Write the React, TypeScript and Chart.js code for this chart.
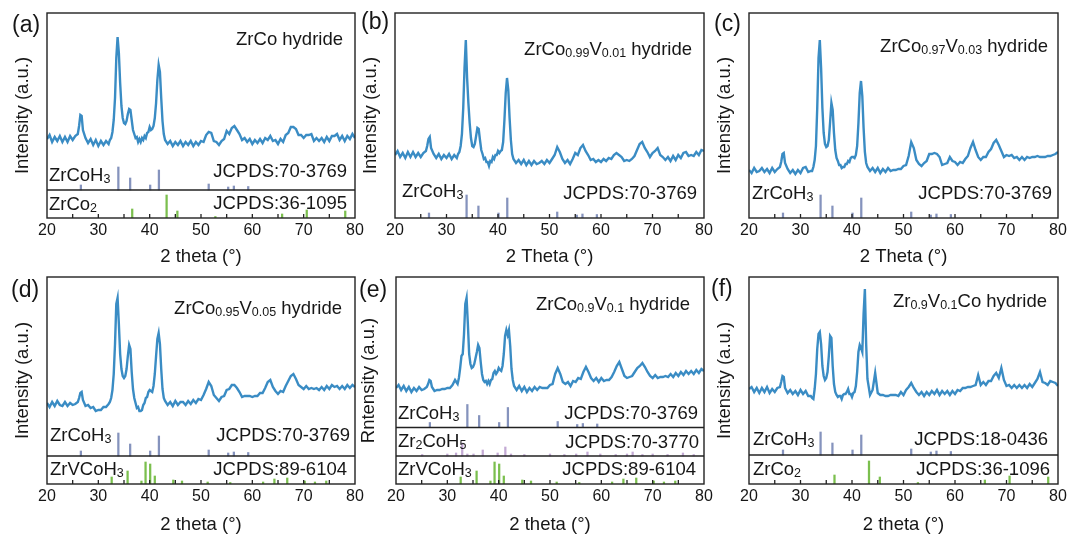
import React, { useEffect, useRef } from 'react';
import { Chart, registerables } from 'chart.js';

Chart.register(...registerables);

// ---------- DATA ----------
// 2θ sampling grid (degrees)
const twoTheta = [
  20, 20.5, 21, 21.5, 22, 22.5, 23, 23.5, 24, 24.5,
  25, 25.5, 26, 26.25, 26.5, 26.75, 27, 27.5, 28, 28.5,
  29, 29.5, 30, 30.5, 31, 31.5, 32, 32.25, 32.5, 32.75,
  33, 33.25, 33.5, 33.75, 34, 34.25, 34.5, 34.75, 35, 35.25,
  35.5, 35.75, 36, 36.25, 36.5, 36.75, 37, 37.25, 37.5, 37.75,
  38, 38.25, 38.5, 38.75, 39, 39.25, 39.5, 39.75, 40, 40.25,
  40.5, 40.75, 41, 41.25, 41.5, 41.75, 42, 42.25, 42.5, 42.75,
  43, 43.5, 44, 44.5, 45, 45.5, 46, 46.5, 47, 47.5,
  48, 48.5, 49, 49.5, 50, 50.5, 51, 51.5, 52, 52.5,
  53, 53.5, 54, 54.5, 55, 55.5, 56, 56.5, 57, 57.5,
  58, 58.5, 59, 59.5, 60, 60.5, 61, 61.5, 62, 62.5,
  63, 63.5, 64, 64.5, 65, 65.5, 66, 66.5, 67, 67.5,
  68, 68.5, 69, 69.5, 70, 70.5, 71, 71.5, 72, 72.5,
  73, 73.5, 74, 74.5, 75, 75.5, 76, 76.5, 77, 77.5,
  78, 78.5, 79, 79.5, 80,
];

// (a) ZrCo hydride
const intensityA = [
  79, 83, 76, 81, 77, 82, 76, 81, 76, 82,
  78, 82, 84, 92, 103, 102, 88, 80, 75, 79,
  73, 78, 72, 77, 73, 77, 74, 78, 80, 86,
  98, 120, 160, 181, 165, 135, 112, 100, 95, 94,
  97, 104, 109, 108, 98, 88, 84, 80, 81, 76,
  79, 76, 80, 78, 82, 80, 85, 86, 91, 88,
  89, 92, 100, 115, 138, 153, 146, 120, 97, 84,
  78, 74, 77, 72, 76, 73, 77, 72, 76, 73,
  77, 72, 76, 73, 77, 76, 83, 86, 85, 77,
  76, 73, 77, 79, 87, 84, 90, 92, 88, 84,
  78, 80, 76, 79, 74, 78, 75, 79, 75, 80,
  78, 82, 77, 78, 74, 79, 76, 83, 85, 91,
  91, 89, 83, 83, 80, 83, 83, 84, 77, 80,
  77, 80, 76, 81, 77, 82, 82, 84, 78, 82,
  77, 82, 79, 84, 80,
];

// (b) ZrCo0.99V0.01 hydride
const intensityB = [
  63, 67, 61, 65, 60, 66, 61, 66, 61, 65,
  61, 65, 67, 72, 79, 81, 70, 64, 60, 64,
  59, 63, 60, 64, 59, 63, 60, 64, 66, 72,
  84, 110, 150, 178, 140, 115, 95, 80, 72, 71,
  74, 82, 90, 89, 78, 68, 64, 59, 60, 56,
  56, 52, 57, 56, 61, 59, 63, 63, 67, 65,
  67, 68, 76, 98, 125, 140, 128, 100, 78, 64,
  59, 55, 58, 54, 58, 53, 57, 53, 57, 54,
  55, 57, 54, 58, 55, 59, 63, 71, 66, 59,
  55, 58, 54, 59, 65, 63, 70, 73, 67, 63,
  58, 59, 56, 58, 56, 59, 57, 60, 59, 63,
  65, 63, 61, 57, 58, 57, 59, 62, 68, 74,
  76, 70, 66, 61, 65, 67, 70, 63, 61, 58,
  61, 57, 62, 58, 63, 60, 65, 66, 62, 63,
  62, 66, 63, 68, 67,
];

// (c) ZrCo0.97V0.03 hydride
const intensityC = [
  48, 45, 50, 46, 47, 50, 46, 49, 45, 50,
  46, 49, 51, 56, 64, 65, 55, 49, 45, 48,
  44, 48, 45, 50, 51, 46, 47, 47, 51, 58,
  72, 110, 160, 178, 150, 110, 85, 74, 71, 72,
  78, 96, 115, 108, 85, 68, 60, 57, 53, 53,
  50, 51, 51, 54, 54, 57, 56, 60, 61, 61,
  60, 63, 72, 95, 125, 137, 122, 90, 66, 55,
  51, 47, 50, 46, 50, 45, 49, 46, 50, 47,
  48, 48, 49, 49, 52, 53, 62, 76, 70, 58,
  54, 52, 55, 57, 64, 64, 65, 64, 61, 53,
  54, 55, 61, 57, 56, 53, 56, 55, 59, 62,
  70, 76, 68, 61, 58, 61, 61, 66, 69, 75,
  78, 73, 67, 61, 63, 62, 63, 60, 61, 58,
  61, 58, 61, 60, 61, 61, 62, 61, 61, 61,
  62, 62, 63, 64, 66,
];

// (d) ZrCo0.95V0.05 hydride
const intensityD = [
  81, 77, 82, 78, 83, 79, 78, 82, 78, 81,
  79, 80, 82, 86, 91, 92, 84, 78, 79, 76,
  77, 73, 74, 74, 77, 77, 80, 82, 86, 94,
  110, 140, 180, 186, 160, 130, 115, 108, 106, 108,
  115, 128, 139, 135, 112, 95, 86, 81, 76, 77,
  73, 73, 74, 79, 81, 86, 87, 92, 94, 93,
  92, 98, 110, 128, 145, 151, 140, 115, 95, 86,
  83, 79, 82, 78, 83, 79, 82, 82, 79, 83,
  80, 84, 81, 85, 84, 89, 95, 102, 98, 89,
  86, 83, 87, 88, 94, 95, 99, 99, 96, 92,
  87, 88, 88, 88, 87, 88, 88, 91, 91, 96,
  102, 104, 97, 93, 90, 93, 92, 98, 103, 108,
  110, 105, 99, 97, 95, 98, 95, 96, 95, 96,
  94, 97, 94, 98, 95, 99, 97, 98, 95, 98,
  95, 99, 96, 99, 97,
];

// (e) ZrCo0.9V0.1 hydride
const intensityE = [
  96, 99, 94, 98, 93, 97, 92, 96, 93, 97,
  94, 95, 97, 100, 104, 103, 97, 93, 94, 94,
  95, 95, 96, 96, 99, 104, 100, 106, 116, 128,
  130, 150, 180, 186, 160, 130, 120, 116, 117, 120,
  126, 132, 139, 136, 122, 110, 104, 102, 103, 100,
  103, 100, 104, 105, 111, 113, 110, 112, 116, 114,
  113, 118, 130, 148, 154, 149, 154, 138, 115, 104,
  98, 94, 98, 93, 97, 92, 96, 93, 97, 94,
  97, 96, 96, 96, 99, 100, 110, 116, 110, 102,
  100, 102, 98, 103, 102, 106, 105, 112, 117, 112,
  106, 103, 106, 102, 106, 103, 104, 104, 107, 112,
  118, 122, 115, 108, 106, 107, 108, 112, 116, 118,
  121, 117, 112, 108, 106, 109, 106, 107, 107, 108,
  107, 110, 107, 111, 108, 112, 109, 113, 110, 113,
  110, 114, 111, 115, 113,
];

// (f) Zr0.9V0.1Co hydride
const intensityF = [
  95, 97, 92, 96, 91, 96, 92, 97, 91, 95,
  92, 96, 97, 102, 108, 107, 96, 91, 94, 90,
  93, 89, 94, 90, 93, 88, 88, 86, 85, 95,
  110, 135, 150, 152, 140, 118, 108, 104, 106, 112,
  128, 148, 146, 118, 100, 92, 89, 87, 88, 88,
  85, 89, 90, 90, 92, 95, 90, 90, 87, 91,
  92, 98, 112, 132, 139, 136, 132, 170, 195, 140,
  105, 89, 94, 111, 91, 89, 89, 88, 88, 89,
  89, 89, 88, 92, 89, 94, 97, 101, 96, 92,
  89, 92, 88, 92, 89, 93, 90, 94, 89, 93,
  90, 93, 89, 93, 90, 94, 93, 96, 96, 97,
  97, 98, 99, 109, 99, 102, 99, 103, 103, 108,
  111, 106, 116, 104, 98, 99, 96, 99, 96, 99,
  96, 99, 96, 100, 97, 101, 105, 112, 102, 101,
  99, 103, 102, 101, 98,
];

// Reference stick patterns (position °, relative height)
const zrCoH3Pos = [26.6, 33.9, 36.2, 40.1, 41.8, 51.5, 55.3, 56.4, 59.2];
const zrCoH3Int = [5, 23, 12, 5, 20, 6, 3, 4, 3.5];

const zrCo2Pos = [36.6, 43.3, 45.4, 52.8, 65.8, 70.6, 78.1];
const zrCo2Int = [9, 23, 7, 1.5, 4, 8, 7];

const zrVCoH3Pos = [32.6, 35.7, 38.4, 39.2, 40.1, 41.0, 44.6, 46.3, 51.3, 55.7, 62.1, 64.3, 66.8, 70.2, 72.2, 74.4];
const zrVCoH3Int = [7, 13, 3, 22, 20, 8, 4, 3, 2, 1.5, 2, 5, 6, 3, 2, 3];

const zr2CoH5Pos = [25.1, 30.0, 31.7, 32.9, 33.9, 35.1, 36.9, 39.8, 41.3, 42.4, 45.0, 50.0, 52.8, 55.1, 57.3, 59.8, 62.8, 65.0, 66.1, 68.0, 70.0, 72.9, 75.9, 78.0];
const zr2CoH5Int = [1.5, 2, 3, 13, 2, 2, 6, 3, 9, 2, 1.5, 2, 1.5, 2, 4, 2, 1.5, 2, 4, 1.5, 2, 1.5, 3, 1.5];

const xTickLabels = [20, 30, 40, 50, 60, 70, 80];
const xTickMarks = [25, 30, 35, 40, 45, 50, 55, 60, 65, 70, 75];

// ---------- STYLE ----------
const FONT = '"Liberation Sans", Arial, Helvetica, sans-serif';
const CURVE = '#3a8cc4';
const C_H3 = '#8593bd';
const C_GREEN = '#7bbf4e';
const C_PURPLE = '#c3aad4';
const INK = '#161616';

type Run = [string, boolean];
interface TextItem { runs: Run[]; side: 'left' | 'right'; off: number; base: number }
interface StickSet { pos: number[]; int: number[]; base: number; color: string }
interface PanelCfg {
  left: number; top: number; w: number; h: number;
  pl: number; pt: number; pr: number; axisH: number; titlePadB: number;
  ymax: number; curve: number[];
  xTitle: string; yTitle: string; yTitleOff: number;
  letter: string; letterX: number; letterY: number;
  title: Run[]; titleR: number; titleB: number;
  sticks: StickSet[]; dividers: number[]; texts: TextItem[];
}

const H3: Run[] = [['ZrCoH', false], ['3', true]];
const CO2: Run[] = [['ZrCo', false], ['2', true]];
const VCOH3: Run[] = [['ZrVCoH', false], ['3', true]];
const ZR2: Run[] = [['Zr', false], ['2', true], ['CoH', false], ['5', true]];
const J = (s: string): Run[] => [[s, false]];

const panels: PanelCfg[] = [
  {
    left: 0, top: 0, w: 370, h: 268, pl: 47, pt: 13, pr: 15, axisH: 50, titlePadB: 0,
    ymax: 205, curve: intensityA, xTitle: '2 theta (°)', yTitle: 'Intensity (a.u.)', yTitleOff: 24.5,
    letter: '(a)', letterX: 12, letterY: 32,
    title: [['ZrCo hydride', false]], titleR: 12, titleB: 32,
    sticks: [
      { pos: zrCoH3Pos, int: zrCoH3Int, base: 28, color: C_H3 },
      { pos: zrCo2Pos, int: zrCo2Int, base: 0, color: C_GREEN },
    ],
    dividers: [28],
    texts: [
      { runs: H3, side: 'left', off: 2, base: 37 },
      { runs: J('JCPDS:70-3769'), side: 'right', off: 8, base: 41 },
      { runs: CO2, side: 'left', off: 2, base: 8 },
      { runs: J('JCPDS:36-1095'), side: 'right', off: 8, base: 9 },
    ],
  },
  {
    left: 355, top: 0, w: 362, h: 268, pl: 40, pt: 13, pr: 13, axisH: 50, titlePadB: 0,
    ymax: 205, curve: intensityB, xTitle: '2 Theta (°)', yTitle: 'Intensity (a.u.)', yTitleOff: 24.5,
    letter: '(b)', letterX: 6, letterY: 29,
    title: [['ZrCo', false], ['0.99', true], ['V', false], ['0.01', true], [' hydride', false]], titleR: 12, titleB: 42,
    sticks: [{ pos: zrCoH3Pos, int: zrCoH3Int, base: 0, color: C_H3 }],
    dividers: [],
    texts: [
      { runs: H3, side: 'left', off: 7, base: 21 },
      { runs: J('JCPDS:70-3769'), side: 'right', off: 7, base: 19.5 },
    ],
  },
  {
    left: 710, top: 0, w: 361, h: 268, pl: 39, pt: 13, pr: 13, axisH: 50, titlePadB: 0,
    ymax: 205, curve: intensityC, xTitle: '2 Theta (°)', yTitle: 'Intensity (a.u.)', yTitleOff: 24,
    letter: '(c)', letterX: 4, letterY: 31,
    title: [['ZrCo', false], ['0.97', true], ['V', false], ['0.03', true], [' hydride', false]], titleR: 10, titleB: 39,
    sticks: [{ pos: zrCoH3Pos, int: zrCoH3Int, base: 0, color: C_H3 }],
    dividers: [],
    texts: [
      { runs: H3, side: 'left', off: 3, base: 19.5 },
      { runs: J('JCPDS:70-3769'), side: 'right', off: 6, base: 19.5 },
    ],
  },
  {
    left: 0, top: 268, w: 370, h: 269, pl: 47, pt: 9, pr: 15, axisH: 53, titlePadB: 1,
    ymax: 207, curve: intensityD, xTitle: '2 theta (°)', yTitle: 'Intensity (a.u.)', yTitleOff: 24.5,
    letter: '(d)', letterX: 11, letterY: 29,
    title: [['ZrCo', false], ['0.95', true], ['V', false], ['0.05', true], [' hydride', false]], titleR: 13, titleB: 37,
    sticks: [
      { pos: zrCoH3Pos, int: zrCoH3Int, base: 28, color: C_H3 },
      { pos: zrVCoH3Pos, int: zrVCoH3Int, base: 0, color: C_GREEN },
    ],
    dividers: [28],
    texts: [
      { runs: H3, side: 'left', off: 3, base: 43 },
      { runs: J('JCPDS:70-3769'), side: 'right', off: 5, base: 43 },
      { runs: VCOH3, side: 'left', off: 3, base: 9 },
      { runs: J('JCPDS:89-6104'), side: 'right', off: 8, base: 9 },
    ],
  },
  {
    left: 355, top: 268, w: 362, h: 269, pl: 41, pt: 9, pr: 13, axisH: 53, titlePadB: 1,
    ymax: 207, curve: intensityE, xTitle: '2 theta (°)', yTitle: 'Rntensity (a.u.)', yTitleOff: 27,
    letter: '(e)', letterX: 4, letterY: 29,
    title: [['ZrCo', false], ['0.9', true], ['V', false], ['0.1', true], [' hydride', false]], titleR: 14, titleB: 33,
    sticks: [
      { pos: zrCoH3Pos, int: zrCoH3Int, base: 56.5, color: C_H3 },
      { pos: zr2CoH5Pos, int: zr2CoH5Int, base: 28, color: C_PURPLE },
      { pos: zrVCoH3Pos, int: zrVCoH3Int, base: 0, color: C_GREEN },
    ],
    dividers: [56.5, 28],
    texts: [
      { runs: H3, side: 'left', off: 2, base: 65.5 },
      { runs: J('JCPDS:70-3769'), side: 'right', off: 6, base: 65.5 },
      { runs: ZR2, side: 'left', off: 2, base: 37 },
      { runs: J('JCPDS:70-3770'), side: 'right', off: 5, base: 36.5 },
      { runs: VCOH3, side: 'left', off: 2, base: 9 },
      { runs: J('JCPDS:89-6104'), side: 'right', off: 8, base: 9 },
    ],
  },
  {
    left: 710, top: 268, w: 361, h: 269, pl: 39, pt: 9, pr: 13, axisH: 53, titlePadB: 1,
    ymax: 207, curve: intensityF, xTitle: '2 theta (°)', yTitle: 'Intensity (a.u.)', yTitleOff: 24,
    letter: '(f)', letterX: 1, letterY: 28,
    title: [['Zr', false], ['0.9', true], ['V', false], ['0.1', true], ['Co hydride', false]], titleR: 11, titleB: 30,
    sticks: [
      { pos: zrCoH3Pos, int: zrCoH3Int, base: 29, color: C_H3 },
      { pos: zrCo2Pos, int: zrCo2Int, base: 0, color: C_GREEN },
    ],
    dividers: [29],
    texts: [
      { runs: H3, side: 'left', off: 4, base: 39 },
      { runs: J('JCPDS:18-0436'), side: 'right', off: 10, base: 39 },
      { runs: CO2, side: 'left', off: 4, base: 9 },
      { runs: J('JCPDS:36-1096'), side: 'right', off: 8, base: 9 },
    ],
  },
];

function drawRuns(
  ctx: CanvasRenderingContext2D, runs: Run[], x: number, y: number,
  align: 'left' | 'right', size: number, subSize: number, subDrop: number,
) {
  const widths = runs.map(([t, sub]) => {
    ctx.font = `${sub ? subSize : size}px ${FONT}`;
    return ctx.measureText(t).width;
  });
  const total = widths.reduce((a, b) => a + b, 0);
  let cx = align === 'right' ? x - total : x;
  ctx.textAlign = 'left';
  ctx.textBaseline = 'alphabetic';
  runs.forEach(([t, sub], i) => {
    ctx.font = `${sub ? subSize : size}px ${FONT}`;
    ctx.fillText(t, cx, y + (sub ? subDrop : 0));
    cx += widths[i];
  });
}

function Panel({ cfg }: { cfg: PanelCfg }) {
  const ref = useRef<HTMLCanvasElement>(null);
  useEffect(() => {
    const canvas = ref.current;
    if (!canvas) return;
    const stickSets: any[] = cfg.sticks.map((s) => ({
      type: 'bar',
      data: s.pos.map((p, i) => ({ x: p, y: [s.base, s.base + s.int[i]] })),
      backgroundColor: s.color,
      borderWidth: 0,
      barThickness: 1.6,
      grouped: false,
      order: 2,
    }));
    const framePlugin = {
      id: 'frame' + cfg.letter,
      afterDraw(chart: any) {
        const { ctx, chartArea: a, scales } = chart;
        const xs = scales.x;
        const ys = scales.y;
        ctx.save();
        ctx.strokeStyle = '#222';
        ctx.lineWidth = 1.4;
        ctx.strokeRect(a.left, a.top, a.right - a.left, a.bottom - a.top);
        cfg.dividers.forEach((d) => {
          const py = ys.getPixelForValue(d);
          ctx.beginPath();
          ctx.moveTo(a.left, py);
          ctx.lineTo(a.right, py);
          ctx.stroke();
        });
        ctx.lineWidth = 1.3;
        xTickMarks.forEach((v) => {
          const px = xs.getPixelForValue(v);
          ctx.beginPath();
          ctx.moveTo(px, a.bottom);
          ctx.lineTo(px, a.bottom - 4);
          ctx.stroke();
        });
        ctx.fillStyle = INK;
        drawRuns(ctx, cfg.title, a.right - cfg.titleR, a.top + cfg.titleB, 'right', 18.5, 12.5, 1.5);
        cfg.texts.forEach((t) => {
          const x = t.side === 'left' ? a.left + t.off : a.right - t.off;
          drawRuns(ctx, t.runs, x, a.bottom - t.base, t.side, 18.5, 12.5, 2);
        });
        ctx.font = `23px ${FONT}`;
        ctx.textAlign = 'left';
        ctx.textBaseline = 'alphabetic';
        ctx.fillText(cfg.letter, cfg.letterX, cfg.letterY);
        ctx.translate(a.left - cfg.yTitleOff, (a.top + a.bottom) / 2);
        ctx.rotate(-Math.PI / 2);
        ctx.font = `18.5px ${FONT}`;
        ctx.textAlign = 'center';
        ctx.textBaseline = 'middle';
        ctx.fillText(cfg.yTitle, 0, 0);
        ctx.restore();
      },
    };
    const chart = new Chart(canvas, {
      type: 'line',
      data: {
        datasets: [
          {
            type: 'line',
            data: twoTheta.map((x, i) => ({ x, y: cfg.curve[i] })),
            borderColor: CURVE,
            borderWidth: 2.4,
            pointRadius: 0,
            tension: 0,
            fill: false,
            order: 1,
          } as any,
          ...stickSets,
        ],
      },
      options: {
        responsive: false,
        animation: false,
        events: [],
        layout: { padding: { left: cfg.pl, top: cfg.pt, right: cfg.pr, bottom: 0 } },
        plugins: { legend: { display: false }, tooltip: { enabled: false } },
        scales: {
          x: {
            type: 'linear',
            min: 20,
            max: 80,
            offset: false,
            grid: { display: false, drawTicks: false, offset: false },
            border: { display: false },
            ticks: {
              padding: 3,
              color: INK,
              font: { family: FONT, size: 16 },
              maxRotation: 0,
              autoSkip: false,
            },
            afterBuildTicks: (s: any) => {
              s.ticks = xTickLabels.map((v) => ({ value: v }));
            },
            afterFit: (s: any) => {
              s.height = cfg.axisH;
            },
            title: {
              display: true,
              text: cfg.xTitle,
              color: INK,
              font: { family: FONT, size: 18.5 },
              padding: { top: 0, bottom: cfg.titlePadB },
            },
          },
          y: { type: 'linear', min: 0, max: cfg.ymax, display: false },
        },
      } as any,
      plugins: [framePlugin],
    });
    return () => chart.destroy();
  }, [cfg]);
  return (
    <canvas
      ref={ref}
      width={cfg.w}
      height={cfg.h}
      style={{ position: 'absolute', left: cfg.left, top: cfg.top, width: cfg.w, height: cfg.h }}
    />
  );
}

export default function App() {
  return (
    <div style={{ position: 'fixed', left: 0, top: 0, width: 1071, height: 537, background: '#ffffff', overflow: 'hidden' }}>
      {panels.map((p) => (
        <Panel key={p.letter} cfg={p} />
      ))}
    </div>
  );
}
